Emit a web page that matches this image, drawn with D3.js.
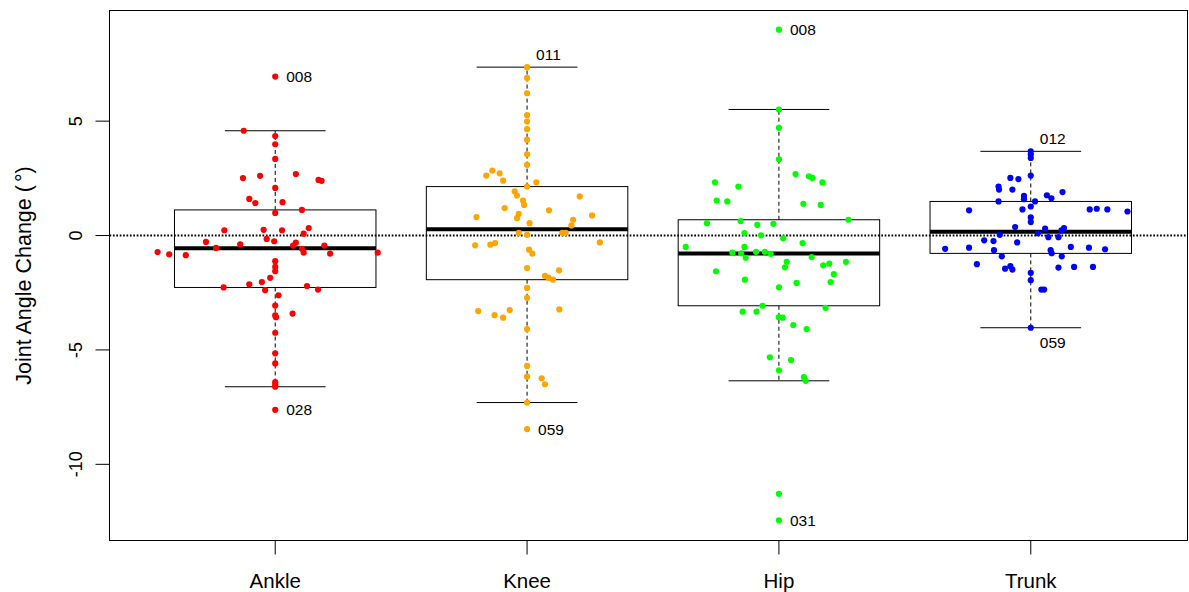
<!DOCTYPE html>
<html>
<head>
<meta charset="utf-8">
<script src="https://cdn.jsdelivr.net/npm/d3@7"></script>
<style>
  html, body { margin: 0; padding: 0; background: #ffffff; }
  svg { display: block; font-family: "Liberation Sans", Arial, Helvetica, sans-serif; }
</style>
</head>
<body>
<svg id="chart" width="1189" height="592"></svg>
<script>
// Joint angle change per segment: one value per participant, plus a
// horizontal spread (in category units) used when drawing the dots.
const categories = ["Ankle", "Knee", "Hip", "Trunk"];
const pointColors = ["#ff0000", "#ffa500", "#00ff00", "#0000ff"];

const ankleValues = [6.95, 4.58, 4.35, 3.99, 3.35, 2.51, 2.61, 2.69, 2.43, 2.39, 2.08, 1.60, 1.42, 1.46, 0.99, 1.12,
  0.23, 0.25, 0.23, 0.33, 0.08, -0.15, -0.25, -0.28, -0.38, -0.31, -0.44, -0.54, -0.44, -0.72, -0.82, -0.86,
  -0.58, -0.75, -0.79, -0.75, -1.12, -1.37, -1.56, -1.85, -2.03, -2.13, -2.27, -2.39, -2.21, -2.36, -2.61,
  -3.06, -3.41, -3.49, -3.57, -4.25, -5.15, -5.59, -6.41, -6.53, -6.61, -7.62];
const ankleSpread = [0, -0.125, 0, 0, 0, -0.128, -0.060, 0.082, 0.172, 0.184, 0, -0.103, -0.079, 0.029, 0, 0.106,
  -0.202, -0.046, 0.027, 0.133, 0.113, -0.034, -0.004, -0.275, -0.139, 0.082, 0.071, -0.235, 0.195, -0.467, -0.421, -0.355,
  0.106, 0.113, 0.218, 0.407, 0, 0, 0, -0.020, -0.053, -0.103, -0.205, -0.040, 0.126, 0.170, 0.013,
  0, 0.069, 0, 0.003, 0, 0, 0, 0, 0, 0, 0];

const kneeValues = [7.36, 6.89, 6.22, 5.26, 4.98, 4.65, 4.19, 3.55, 3.09, 2.62, 2.84, 2.72, 2.40, 2.14, 2.33, 1.93,
  1.75, 1.53, 1.34, 1.71, 1.20, 1.10, 0.81, 0.95, 0.76, 0.88, 0.69, 0.44, 0.54, 0.12, 0.03, 0.12, 0.12,
  -0.43, -0.40, -0.33, -0.30, -0.62, -0.79, -1.42, -1.52, -1.76, -1.84, -1.93, -2.29, -2.72, -3.30, -3.48,
  -3.59, -3.26, -3.23, -4.09, -5.70, -6.17, -6.24, -6.50, -7.30, -8.46];
const kneeSpread = [0, 0, 0, 0, 0, 0, 0, 0, 0, -0.162, -0.138, -0.109, -0.095, 0, 0.037, -0.049,
  -0.040, -0.016, -0.012, 0.209, -0.089, 0.087, -0.201, -0.033, -0.040, 0.258, 0.183, 0.176, 0.010, -0.033, 0, 0.140, 0.153,
  -0.206, -0.146, -0.127, 0.289, 0.008, 0.021, 0, 0.127, 0.071, 0.085, 0.103, 0, 0, -0.194, -0.129,
  -0.095, -0.069, 0.128, 0, 0, 0, 0.058, 0.071, 0, 0];

const hipValues = [9.00, 5.51, 4.71, 3.33, 2.69, 2.59, 2.52, 2.32, 2.33, 2.14, 1.53, 1.49, 1.39, 1.34, 0.69, 0.54,
  0.63, 0.47, 0.51, 0.11, 0.01, -0.12, -0.33, -0.50, -0.50, -0.75, -0.71, -0.71, -0.97, -0.94, -1.15, -1.39,
  -1.30, -1.23, -1.15, -1.56, -1.69, -1.93, -2.07, -2.03, -2.26, -3.07, -3.16, -3.33, -3.33, -3.57, -3.59,
  -3.91, -4.09, -5.32, -5.44, -5.89, -6.19, -6.35, -11.29, -12.45, -0.78, -0.80];
const hipSpread = [0, 0, 0, 0, 0.066, 0.119, 0.133, 0.173, -0.254, -0.161, -0.247, -0.205, 0.097, 0.166, 0.276, -0.286,
  -0.152, -0.086, -0.022, -0.137, -0.071, 0.017, 0.094, -0.370, -0.137, -0.185, -0.091, -0.056, -0.132, 0.130, 0.031, 0.024,
  0.176, 0.200, 0.266, -0.250, 0.218, -0.135, 0.070, 0.205, 0, -0.065, 0.185, -0.144, -0.089, 0, 0.015,
  0.057, 0.110, -0.036, 0.048, 0, 0.099, 0.106, 0, 0, -0.150, -0.033];

const trunkValues = [3.68, 3.54, 3.39, 2.62, 2.52, 2.47, 2.14, 2.01, 2.01, 1.90, 1.73, 1.59, 1.76, 1.63, 1.49, 1.49,
  1.27, 1.10, 1.14, 1.14, 1.17, 1.14, 1.05, 0.79, 0.59, 0.37, 0.30, 0.33, 0.23, 0.03, -0.07, -0.07,
  -0.21, -0.24, -0.30, -0.58, -0.53, -0.64, -0.64, -0.78, -0.50, -0.53, -0.60, -0.91, -0.91, -1.25, -1.45,
  -1.34, -1.49, -1.40, -1.37, -1.37, -1.63, -1.95, -2.36, -2.36, -4.03, 0.10];
const trunkSpread = [0, 0, 0, 0, -0.081, -0.049, -0.128, -0.126, -0.073, 0.126, -0.027, -0.027, 0.064, 0.082, -0.128, 0.017,
  0, -0.245, -0.033, 0.234, 0.262, 0.304, 0.384, 0, 0, -0.062, 0.057, 0.132, 0.122, -0.123, 0.070, 0.110,
  -0.185, -0.148, -0.054, -0.340, -0.245, -0.146, 0.079, 0.083, 0.159, 0.231, 0.295, -0.115, 0.123, -0.214, -0.102,
  -0.081, -0.073, 0.110, 0.172, 0.247, 0, 0, 0.042, 0.053, 0, 0.028];

// Participant IDs written next to selected extreme points.
const labelGroups = ["Ankle", "Ankle", "Knee", "Knee", "Hip", "Hip", "Trunk", "Trunk"];
const labelIds = ["008", "028", "011", "059", "008", "031", "012", "059"];
const labelValues = [6.95, -7.62, 7.36, -8.46, 9.00, -12.45, 3.68, -4.03];
const labelPlacement = ["right", "right", "above", "right", "right", "right", "above", "below"];

const yTicks = [-10, -5, 0, 5];
const yTitle = "Joint Angle Change (";

const groupValues = [ankleValues, kneeValues, hipValues, trunkValues];
const groupSpread = [ankleSpread, kneeSpread, hipSpread, trunkSpread];

// Tukey five-number summary with whiskers at 1.5 IQR (boxplot.stats style).
function boxStats(values) {
  const v = values.slice().sort((a, b) => a - b);
  const n = v.length;
  const n4 = Math.floor((n + 3) / 2) / 2;
  const idx = [1, n4, (n + 1) / 2, n + 1 - n4, n];
  const at = k => 0.5 * (v[Math.floor(k) - 1] + v[Math.ceil(k) - 1]);
  const [mn, q1, med, q3, mx] = idx.map(at);
  const reach = 1.5 * (q3 - q1);
  const inside = v.filter(d => d >= q1 - reach && d <= q3 + reach);
  return { q1, med, q3, lo: d3.min(inside), hi: d3.max(inside) };
}

const svg = d3.select("#chart");
const frame = { left: 109.5, right: 1187.5, top: 10.5, bottom: 540.5 };

const allValues = groupValues.flat();
const [vMin, vMax] = d3.extent(allValues);
const pad = 0.04 * (vMax - vMin);
const y = d3.scaleLinear().domain([vMin - pad, vMax + pad]).range([540, 10]);
const x = d3.scaleLinear().domain([0.34, 4.66]).range([109, 109 + 4.32 * 251.85]);
const pos = name => categories.indexOf(name) + 1;

const plot = svg.append("g");

// Boxes, whiskers and medians
categories.forEach((cat, i) => {
  const s = boxStats(groupValues[i]);
  const c = i + 1;
  const g = plot.append("g");
  g.append("line").attr("x1", x(c)).attr("x2", x(c)).attr("y1", y(s.q3)).attr("y2", y(s.hi))
    .attr("stroke", "#000").attr("stroke-width", 1).attr("stroke-dasharray", "4,3");
  g.append("line").attr("x1", x(c)).attr("x2", x(c)).attr("y1", y(s.q1)).attr("y2", y(s.lo))
    .attr("stroke", "#000").attr("stroke-width", 1).attr("stroke-dasharray", "4,3");
  [s.hi, s.lo].forEach(v => {
    g.append("line").attr("x1", x(c - 0.2)).attr("x2", x(c + 0.2)).attr("y1", y(v)).attr("y2", y(v))
      .attr("stroke", "#000").attr("stroke-width", 1);
  });
  g.append("rect").attr("x", x(c - 0.4)).attr("y", y(s.q3))
    .attr("width", x(c + 0.4) - x(c - 0.4)).attr("height", y(s.q1) - y(s.q3))
    .attr("fill", "none").attr("stroke", "#000").attr("stroke-width", 1);
  g.append("line").attr("x1", x(c - 0.4)).attr("x2", x(c + 0.4)).attr("y1", y(s.med)).attr("y2", y(s.med))
    .attr("stroke", "#000").attr("stroke-width", 4);
});

// Reference line at zero
plot.append("line").attr("x1", frame.left).attr("x2", frame.right).attr("y1", y(0)).attr("y2", y(0))
  .attr("stroke", "#000").attr("stroke-width", 2).attr("stroke-dasharray", "1.7,1.7");

// Individual points
categories.forEach((cat, i) => {
  const pts = groupValues[i].map((v, k) => ({ v, dx: groupSpread[i][k] }));
  plot.append("g").selectAll("circle").data(pts).join("circle")
    .attr("cx", d => x(i + 1 + d.dx)).attr("cy", d => y(d.v))
    .attr("r", 3.1).attr("fill", pointColors[i]);
});

// ID labels
const offsets = { right: [11, 0], above: [9, -13], below: [9, 15] };
labelIds.forEach((id, k) => {
  const [ox, oy] = offsets[labelPlacement[k]];
  svg.append("text").attr("x", x(pos(labelGroups[k])) + ox).attr("y", y(labelValues[k]) + oy)
    .attr("dy", "0.35em").attr("font-size", 15.5).attr("fill", "#000").text(id);
});

// Plot frame
svg.append("rect").attr("x", frame.left).attr("y", frame.top)
  .attr("width", frame.right - frame.left).attr("height", frame.bottom - frame.top)
  .attr("fill", "none").attr("stroke", "#000").attr("stroke-width", 1);

// Y axis
const yAxis = svg.append("g");
yTicks.forEach(t => {
  yAxis.append("line").attr("x1", frame.left - 14).attr("x2", frame.left).attr("y1", y(t)).attr("y2", y(t))
    .attr("stroke", "#000").attr("stroke-width", 1);
  yAxis.append("text").attr("transform", `translate(76,${y(t)}) rotate(-90)`)
    .attr("text-anchor", "middle").attr("dy", "0.35em").attr("font-size", 18).text(t);
});
const title = yAxis.append("text").attr("transform", `translate(23,${(frame.top + frame.bottom) / 2}) rotate(-90)`)
  .attr("text-anchor", "middle").attr("dy", "0.35em").attr("font-size", 21.5);
title.append("tspan").text(yTitle);
title.append("tspan").attr("dx", 3).text("°");
title.append("tspan").text(")");

// X axis
const xAxis = svg.append("g");
categories.forEach((cat, i) => {
  xAxis.append("line").attr("x1", x(i + 1)).attr("x2", x(i + 1)).attr("y1", frame.bottom).attr("y2", frame.bottom + 14)
    .attr("stroke", "#000").attr("stroke-width", 1);
  xAxis.append("text").attr("x", x(i + 1)).attr("y", 581).attr("dy", "0.35em")
    .attr("text-anchor", "middle").attr("font-size", 20.5).text(cat);
});
</script>
</body>
</html>
